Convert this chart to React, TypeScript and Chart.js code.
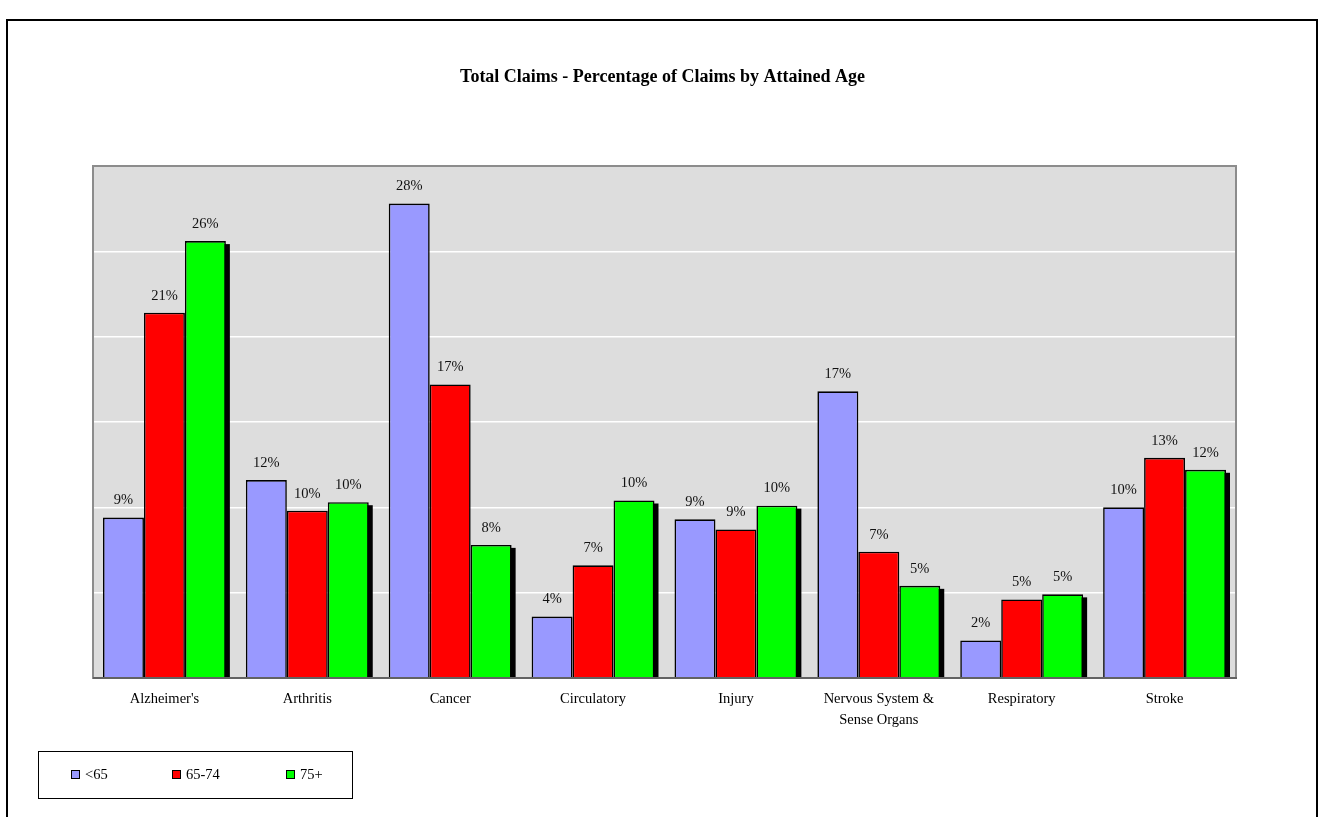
import { useEffect, useRef } from 'react';
import { Chart, registerables } from 'chart.js';

Chart.register(...registerables);

// Claim causes along the x axis
const categories: (string | string[])[] = [
  "Alzheimer's",
  'Arthritis',
  'Cancer',
  'Circulatory',
  'Injury',
  ['Nervous System &', 'Sense Organs'],
  'Respiratory',
  'Stroke',
];

// Percentage of claims per attained-age band
const under65 = [9.4, 11.6, 27.8, 3.6, 9.3, 16.8, 2.2, 10.0];
const age65to74 = [21.4, 9.8, 17.2, 6.6, 8.7, 7.4, 4.6, 12.9];
const age75plus = [25.6, 10.3, 7.8, 10.4, 10.1, 5.4, 4.9, 12.2];

const seriesNames = ['<65', '65-74', '75+'];
const seriesColors = ['#9999FF', '#FF0000', '#00FF00'];

const yMax = 30;
const yStep = 5;

const chartTitle = 'Total Claims - Percentage of Claims by Attained Age';
const FONT = '"Liberation Serif", "Times New Roman", serif';

const W = 1323;
const H = 817;

const decorations = {
  id: 'decorations',
  beforeDraw(chart: any) {
    const { ctx, chartArea } = chart;
    ctx.save();
    ctx.fillStyle = '#FFFFFF';
    ctx.fillRect(0, 0, W, H);
    // outer frame
    ctx.strokeStyle = '#000000';
    ctx.lineWidth = 2;
    ctx.strokeRect(7, 20, 1310, 820);
    // plot area background
    ctx.fillStyle = '#DDDDDD';
    ctx.fillRect(chartArea.left, chartArea.top, chartArea.right - chartArea.left, chartArea.bottom - chartArea.top);
    ctx.restore();
  },
  beforeDatasetDraw(chart: any, args: any) {
    if (args.index !== 2) return;
    const { ctx, chartArea } = chart;
    const meta = chart.getDatasetMeta(2);
    ctx.save();
    ctx.beginPath();
    ctx.rect(chartArea.left, chartArea.top, chartArea.right - chartArea.left, chartArea.bottom - chartArea.top);
    ctx.clip();
    ctx.fillStyle = '#000000';
    meta.data.forEach((bar: any) => {
      const p = bar.getProps(['x', 'y', 'base', 'width'], true);
      ctx.fillRect(p.x - p.width / 2 + 4, p.y + 3, p.width, p.base - p.y);
    });
    ctx.restore();
  },
  afterDatasetsDraw(chart: any) {
    const { ctx, chartArea } = chart;
    ctx.save();
    // plot area border
    ctx.strokeStyle = '#8C8C8C';
    ctx.lineWidth = 2;
    ctx.strokeRect(chartArea.left, chartArea.top, chartArea.right - chartArea.left, chartArea.bottom - chartArea.top);
    ctx.strokeStyle = '#555555';
    ctx.lineWidth = 1.5;
    ctx.beginPath();
    ctx.moveTo(chartArea.left, chartArea.bottom);
    ctx.lineTo(chartArea.right + 1, chartArea.bottom);
    ctx.stroke();

    // value labels
    ctx.fillStyle = '#111111';
    ctx.font = `14.5px ${FONT}`;
    ctx.textAlign = 'center';
    ctx.textBaseline = 'middle';
    chart.data.datasets.forEach((ds: any, i: number) => {
      const meta = chart.getDatasetMeta(i);
      meta.data.forEach((bar: any, j: number) => {
        const v = ds.data[j];
        ctx.fillText(`${Math.round(v)}%`, bar.x, bar.y - 17);
      });
    });

    // title
    ctx.fillStyle = '#000000';
    ctx.font = `bold 18px ${FONT}`;
    ctx.fillText(chartTitle, 662.5, 77);

    // legend
    ctx.strokeStyle = '#000000';
    ctx.lineWidth = 1;
    ctx.strokeRect(38.5, 751.5, 314, 47);
    const squareX = [71, 172, 286];
    ctx.font = `14.5px ${FONT}`;
    ctx.textAlign = 'left';
    seriesNames.forEach((name, i) => {
      ctx.fillStyle = seriesColors[i];
      ctx.fillRect(squareX[i], 770, 9, 9);
      ctx.strokeStyle = '#000000';
      ctx.strokeRect(squareX[i] + 0.5, 770.5, 8, 8);
      ctx.fillStyle = '#000000';
      ctx.fillText(name, squareX[i] + 14, 775);
    });
    ctx.restore();
  },
};

export default function App() {
  const canvasRef = useRef<HTMLCanvasElement | null>(null);

  useEffect(() => {
    if (!canvasRef.current) return;
    const seriesData = [under65, age65to74, age75plus];
    const chart = new Chart(canvasRef.current, {
      type: 'bar',
      data: {
        labels: categories as any,
        datasets: seriesNames.map((name, i) => ({
          label: name,
          data: seriesData[i],
          backgroundColor: seriesColors[i],
          borderColor: '#000000',
          borderWidth: 1.6,
          categoryPercentage: 0.86,
          barPercentage: 1,
        })),
      },
      options: {
        responsive: false,
        animation: false,
        devicePixelRatio: 1,
        layout: { padding: { left: 93, top: 166, right: 87, bottom: 0 } },
        plugins: {
          legend: { display: false },
          title: { display: false },
          tooltip: { enabled: false },
        },
        scales: {
          x: {
            grid: { display: false, drawTicks: false },
            border: { display: false },
            ticks: {
              color: '#000000',
              padding: 11,
              maxRotation: 0,
              autoSkip: false,
              font: { family: FONT, size: 14.5, lineHeight: 1.45 },
            },
            afterFit: (scale: any) => {
              scale.height = 139;
            },
          },
          y: {
            min: 0,
            max: yMax,
            ticks: { stepSize: yStep, display: false },
            grid: { color: '#FFFFFF', lineWidth: 1.5, drawTicks: false },
            border: { display: false },
            afterFit: (scale: any) => {
              scale.width = 0;
            },
          },
        },
      },
      plugins: [decorations],
    });
    return () => chart.destroy();
  }, []);

  return (
    <div style={{ position: 'fixed', left: 0, top: 0, width: W, height: H }}>
      <canvas ref={canvasRef} width={W} height={H} style={{ display: 'block' }} />
    </div>
  );
}
